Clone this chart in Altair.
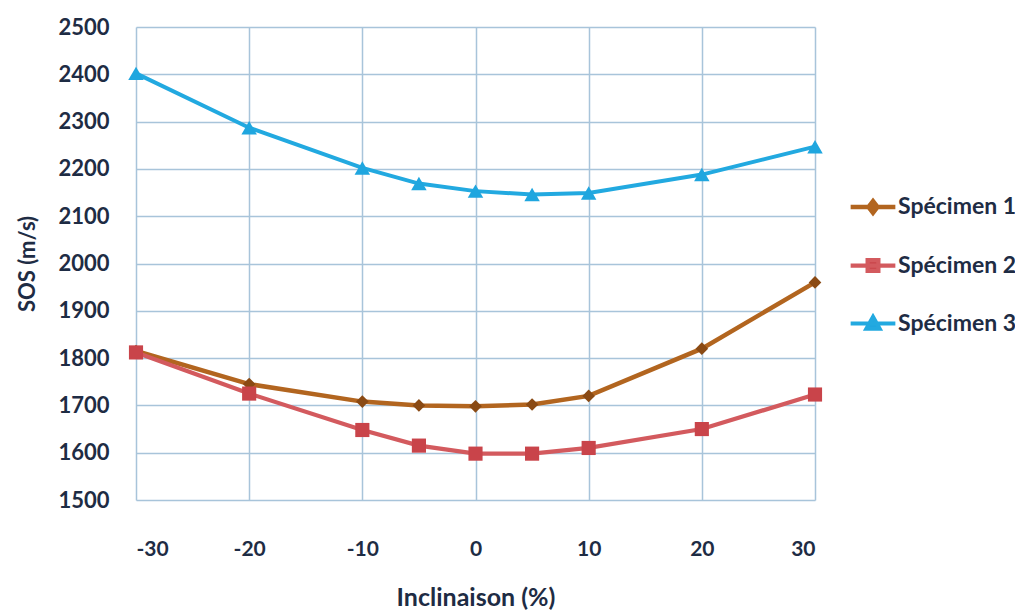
import altair as alt
import pandas as pd

# ---- data ----
inclinaison = [-30, -20, -10, -5, 0, 5, 10, 20, 30]
specimen_1 = [1815, 1745, 1708, 1700, 1698, 1702, 1720, 1820, 1960]
specimen_2 = [1812, 1725, 1648, 1615, 1598, 1598, 1610, 1650, 1723]
specimen_3 = [2402, 2287, 2202, 2169, 2153, 2146, 2149, 2188, 2247]
series_names = ["Spécimen 1", "Spécimen 2", "Spécimen 3"]
x_ticks = [-30, -20, -10, 0, 10, 20, 30]
y_ticks = [1500, 1600, 1700, 1800, 1900, 2000, 2100, 2200, 2300, 2400, 2500]

# ---- styles ----
line_colors = ["#B2651F", "#D35A5E", "#22A9E0"]
marker_colors = ["#8A4A14", "#C9444A", "#1FA6DF"]
marker_shapes = ["diamond", "square", "triangle-up"]
marker_sizes = [160, 200, 240]
line_widths = [4.5, 4, 5.5]
legend_paths = [
    "M-1,0L1,0M0,-0.26L0.2,0L0,0.26L-0.2,0Z",
    "M-1,0L1,0M-0.24,-0.24L0.24,-0.24L0.24,0.24L-0.24,0.24Z",
    "M-1,0L1,0M0,-0.3L0.3,0.24L-0.3,0.24Z",
]
TEXT = "#1E2C44"
FONT = "Lato"

rows = []
for name, vals in zip(series_names, [specimen_1, specimen_2, specimen_3]):
    for xv, yv in zip(inclinaison, vals):
        rows.append({"x": xv, "y": yv, "series": name})
df = pd.DataFrame(rows)

x_enc = alt.X(
    "x:Q",
    scale=alt.Scale(domain=[-30, 30], nice=False, zero=False),
    axis=alt.Axis(values=x_ticks, title="Inclinaison (%)", labelPadding=38,
                  labelExpr="'' + datum.value",
                  titlePadding=26, titleFontSize=25, labelFontSize=21),
)
y_enc = alt.Y(
    "y:Q",
    scale=alt.Scale(domain=[1500, 2500], nice=False, zero=False),
    axis=alt.Axis(values=y_ticks, title="SOS (m/s)", labelPadding=27,
                  labelExpr="'' + datum.value",
                  titlePadding=18, titleFontSize=22, labelFontSize=22),
)

leg = alt.Legend(
    title=None, orient="none", legendX=712, legendY=155,
    labelFont=FONT, labelFontSize=23, labelFontWeight="bold", labelColor=TEXT,
    symbolSize=2000, symbolStrokeWidth=3, symbolOpacity=1, rowPadding=19, labelOffset=0,
)

base = alt.Chart(df)

lines = base.mark_line().encode(
    x=x_enc,
    y=y_enc,
    stroke=alt.Stroke("series:N", scale=alt.Scale(domain=series_names, range=line_colors), legend=leg),
    strokeWidth=alt.StrokeWidth("series:N", scale=alt.Scale(domain=series_names, range=line_widths), legend=None),
)

point_layers = []
for name, shp, sz, col in zip(series_names, marker_shapes, marker_sizes, marker_colors):
    point_layers.append(
        base.transform_filter(alt.datum.series == name)
        .mark_point(filled=True, shape=shp, size=sz, color=col, opacity=1)
        .encode(x=x_enc, y=y_enc)
    )

legend_layer = base.mark_point(filled=True, opacity=0).encode(
    x=x_enc,
    y=y_enc,
    shape=alt.Shape("series:N", scale=alt.Scale(domain=series_names, range=legend_paths), legend=leg),
    fill=alt.Fill("series:N", scale=alt.Scale(domain=series_names, range=marker_colors), legend=leg),
    stroke=alt.Stroke("series:N", scale=alt.Scale(domain=series_names, range=line_colors), legend=leg),
)

chart = (
    alt.layer(lines, *point_layers, legend_layer)
    .properties(
        width=679, height=473,
        autosize=alt.AutoSizeParams(type="none"),
        padding={"left": 128, "top": 19, "right": 200, "bottom": 114},
        background="white",
    )
    .configure_view(stroke=None)
    .configure_axis(
        domain=False, ticks=False, grid=True, gridColor="#A8C4DA", gridWidth=1.5,
        labelFont=FONT, labelFontWeight="bold", labelColor=TEXT,
        titleFont=FONT, titleFontWeight="bold", titleColor=TEXT,
    )
)

chart.save("out.html", embed_options={"renderer": "svg", "actions": False})
